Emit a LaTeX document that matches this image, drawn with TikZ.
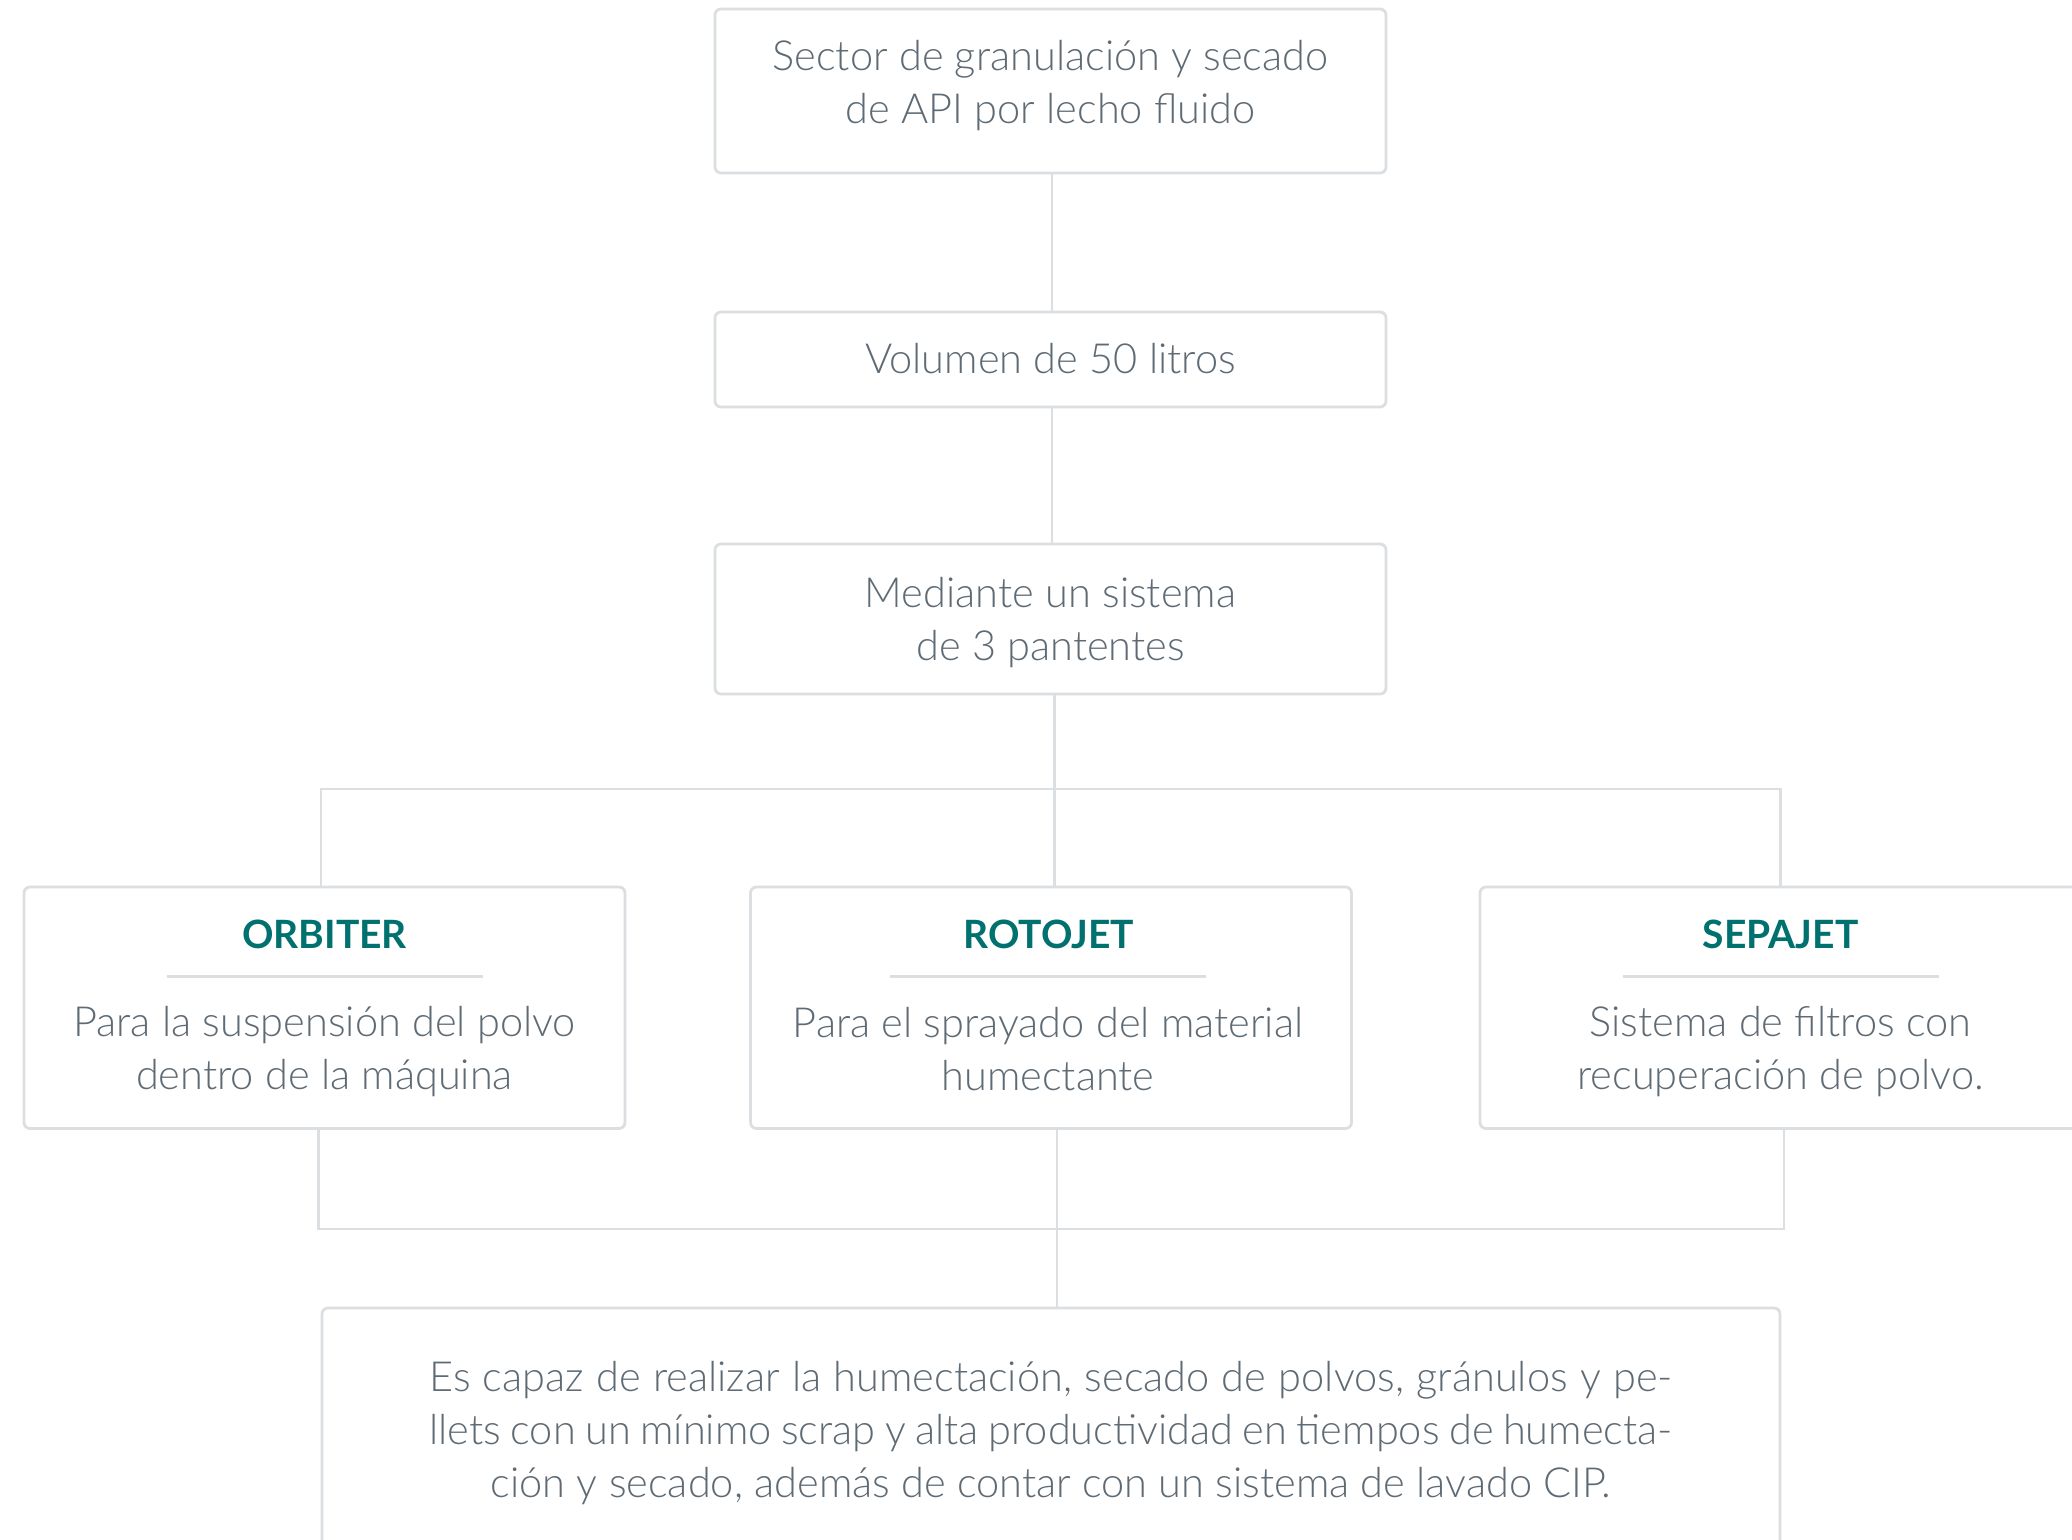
\documentclass[tikz,border=0pt]{standalone}
\usepackage{fontspec}
\IfFontExistsTF{Lato Light}{\setmainfont{Lato Light}}{\setmainfont{Lato}}
\newfontfamily\latofam{Lato}
\definecolor{linegray}{HTML}{DCDFE2}
\definecolor{txtgray}{HTML}{5E6A74}
\definecolor{titleteal}{HTML}{00716F}
\begin{document}
\begin{tikzpicture}[x=0.5pt,y=-0.5pt,
  boxst/.style={draw=linegray, line width=1.4pt, rounded corners=3pt, fill=white, inner sep=0pt},
  conn/.style={draw=linegray, line width=1.3pt},
  txt/.style={text=txtgray, font=\fontsize{20.75}{26.5}\selectfont, align=center, inner sep=0pt},
  ttl/.style={text=titleteal, font=\latofam\bfseries\fontsize{19.5}{24}\selectfont, inner sep=0pt},
  rulest/.style={draw=linegray, line width=1.3pt},
  subbox/.style={boxst, minimum width=300.5pt, minimum height=120.75pt}]
\useasboundingbox (0,0) rectangle (2072,1540);
\clip (0,0) rectangle (2072,1540);
\fill[white] (0,0) rectangle (2072,1540);

% top chain
\node[boxst, minimum width=335.5pt, minimum height=82pt] (top) at (1050.5,91) {};
\node[txt] (toptxt) at (1050.5,86) {Sector de granulación y secado\\de API por lecho fluido};
\node[boxst, minimum width=335.5pt, minimum height=47.5pt] (vol) at (1050.5,359.5) {};
\node[txt] (voltxt) at (1050.5,359) {Volumen de 50 litros};
\node[boxst, minimum width=335.5pt, minimum height=75pt] (med) at (1050.5,619) {};
\node[txt] (medtxt) at (1050.5,623) {Mediante un sistema\\de 3 pantentes};

% three boxes
\node[subbox] (orb) at (324.5,1007.75) {};
\node[subbox] (rot) at (1051,1007.75) {};
\node[subbox] (sep) at (1780.5,1007.75) {};

\node[ttl] (orbt) at (324.5,934) {ORBITER};
\node[ttl] (rott) at (1049,934) {ROTOJET};
\node[ttl] (sept) at (1780.5,934) {SEPAJET};

\coordinate (orbl) at (166.5,976.5); \coordinate (orbr) at (482.5,976.5);
\coordinate (rotl) at (890,976.5);   \coordinate (rotr) at (1206,976.5);
\coordinate (sepl) at (1622.5,976.5); \coordinate (sepr) at (1938.5,976.5);
\draw[rulest] (orbl) -- (orbr);
\draw[rulest] (rotl) -- (rotr);
\draw[rulest] (sepl) -- (sepr);

\node[txt] (orbb) at (324.5,1052) {Para la suspensión del polvo\\dentro de la máquina};
\node[txt] (rotb) at (1048,1049.5) {Para el sprayado del material\\humectante};
\node[txt] (sepb) at (1780.5,1052) {Sistema de filtros con\\recuperación de polvo.};

% bottom box
\node[boxst, minimum width=729pt, minimum height=122pt] (bot) at (1051,1430) {};
\node[txt] (bott) at (1051,1432.6) {\makebox[621.6pt][s]{Es capaz de realizar la humectación, secado de polvos, gránulos y pe-}\\\makebox[621.6pt][s]{llets con un mínimo scrap y alta productividad en tiempos de humecta-}\\ción y secado, además de contar con un sistema de lavado CIP.};

% connectors
\draw[conn] ([xshift=0.75pt]top.south) -- ([xshift=0.75pt]vol.north);
\draw[conn] ([xshift=0.75pt]vol.south) -- ([xshift=0.75pt]med.north);
\draw[conn] ([xshift=2pt]med.south) -- ++(0,93.6) coordinate (hub);
\draw[conn] ([xshift=-1.75pt]orb.north) |- (hub) -| (sep.north);
\draw[conn] (hub) -- (hub |- rot.north);
\draw[conn] ([xshift=3pt]rot.south) -- ++(0,99) coordinate (hub2);
\draw[conn] ([xshift=-3pt]orb.south) |- (hub2) -| ([xshift=1.75pt]sep.south);
\draw[conn] (hub2) -- (hub2 |- bot.north);
\end{tikzpicture}
\end{document}
